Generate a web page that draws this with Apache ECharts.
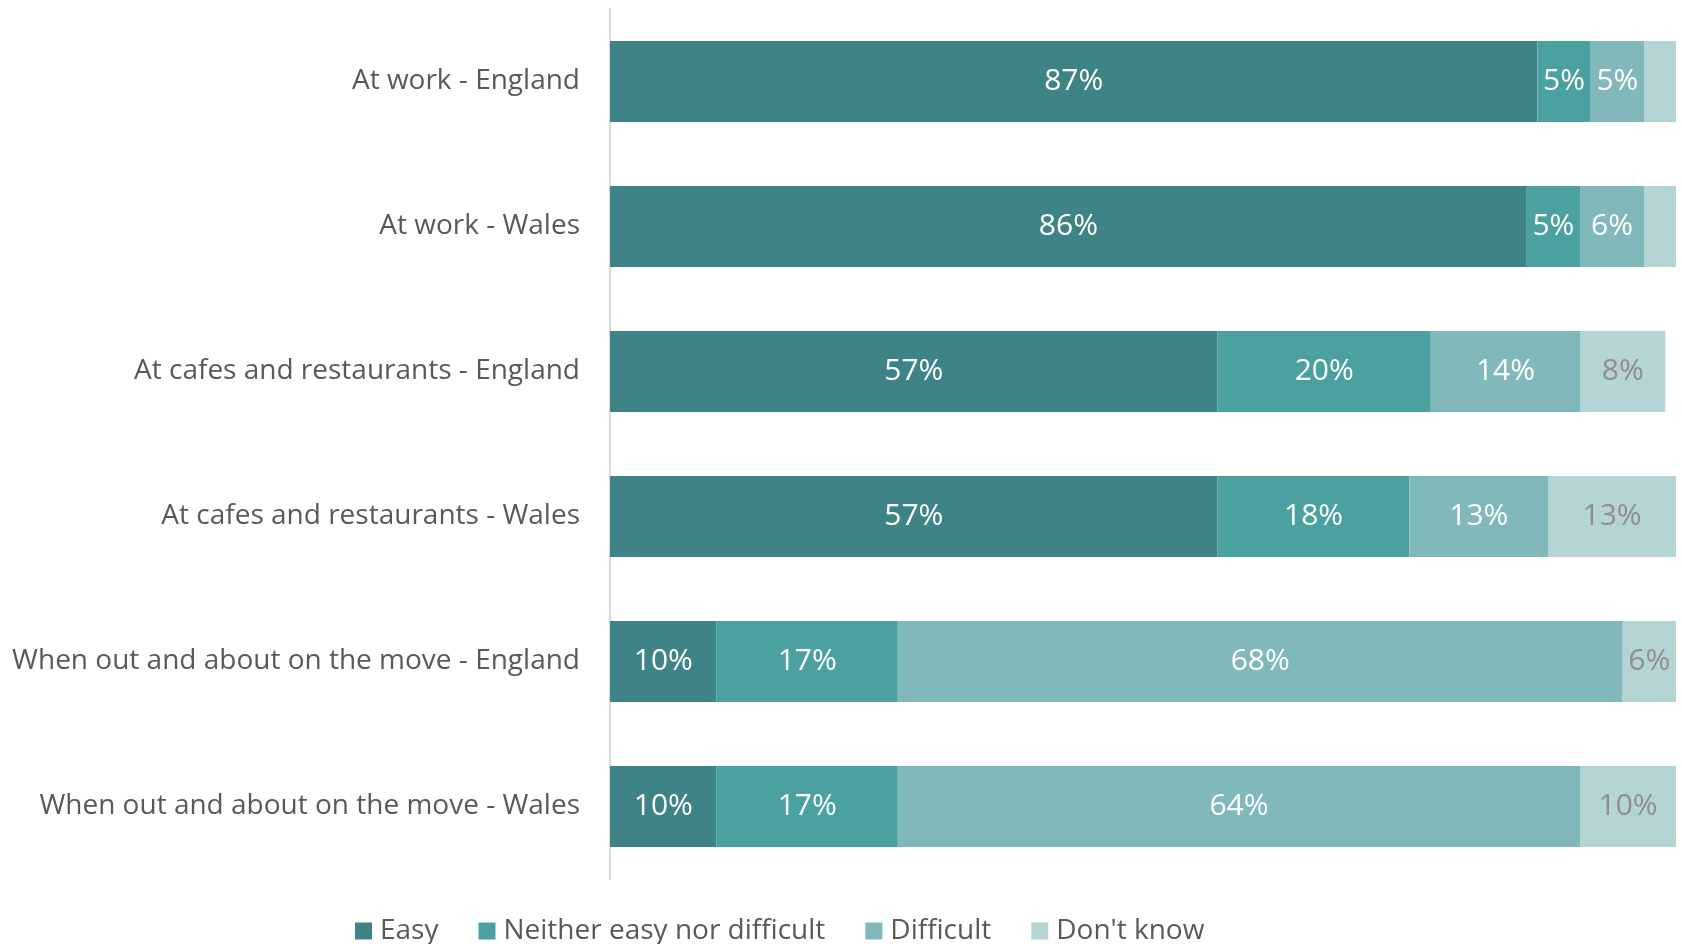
<!DOCTYPE html>
<html>
<head>
<meta charset="utf-8">
<script src="https://cdn.jsdelivr.net/npm/echarts@6/dist/echarts.min.js"></script>
<style>
  html, body { margin: 0; padding: 0; background: #ffffff; }
  #chart { width: 1682px; height: 944px; }
</style>
</head>
<body>
<div id="chart"></div>
<script>
// Survey categories (top to bottom)
const categories = [
  'At work - England',
  'At work - Wales',
  'At cafes and restaurants - England',
  'At cafes and restaurants - Wales',
  'When out and about on the move - England',
  'When out and about on the move - Wales'
];

// Response shares, percent
const easy      = [87, 86, 57, 57, 10, 10];
const neither   = [5, 5, 20, 18, 17, 17];
const difficult = [5, 6, 14, 13, 68, 64];
const dontKnow  = [3, 3, 8, 13, 6, 10];

// Which "Don't know" values carry a printed label
const dontKnowLabelled = [false, false, true, true, true, true];

const seriesNames = ['Easy', 'Neither easy nor difficult', 'Difficult', "Don't know"];
const colors = ['#3E8487', '#4BA0A0', '#81B9BB', '#B5D4D4'];

const FONT = '"Open Sans", sans-serif';

function makeSeries(name, values, color, labelColor, showFlags) {
  return {
    name: name,
    type: 'bar',
    stack: 'total',
    barCategoryGap: '44%',
    itemStyle: { color: color },
    label: {
      show: true,
      position: 'inside',
      color: labelColor,
      fontFamily: FONT,
      fontSize: 30,
      padding: [7, 0, 0, 0],
      formatter: function (p) {
        if (showFlags && !showFlags[p.dataIndex]) return '';
        return p.value + '%';
      }
    },
    emphasis: { disabled: true },
    data: values
  };
}

const chart = echarts.init(document.getElementById('chart'), null, { renderer: 'canvas' });

chart.setOption({
  backgroundColor: '#ffffff',
  animation: false,
  grid: { left: 610, right: 6, top: 9, bottom: 65, containLabel: false },
  xAxis: {
    type: 'value',
    min: 0,
    max: 100,
    show: false
  },
  yAxis: {
    type: 'category',
    inverse: true,
    data: categories,
    axisLine: { show: true, lineStyle: { color: '#d9d9d9', width: 2 } },
    axisTick: { show: false },
    axisLabel: {
      color: '#595959',
      fontFamily: FONT,
      fontSize: 28,
      margin: 30,
      padding: [6, 0, 0, 0]
    }
  },
  legend: {
    data: seriesNames,
    left: 350,
    top: 912,
    itemWidth: 17,
    itemHeight: 17,
    itemGap: 40,
    icon: 'rect',
    textStyle: { color: '#595959', fontFamily: FONT, fontSize: 28, padding: [0, 0, 0, 3] }
  },
  series: [
    makeSeries(seriesNames[0], easy, colors[0], '#ffffff'),
    makeSeries(seriesNames[1], neither, colors[1], '#ffffff'),
    makeSeries(seriesNames[2], difficult, colors[2], '#ffffff'),
    makeSeries(seriesNames[3], dontKnow, colors[3], '#8f8f8f', dontKnowLabelled)
  ]
});
</script>
</body>
</html>
